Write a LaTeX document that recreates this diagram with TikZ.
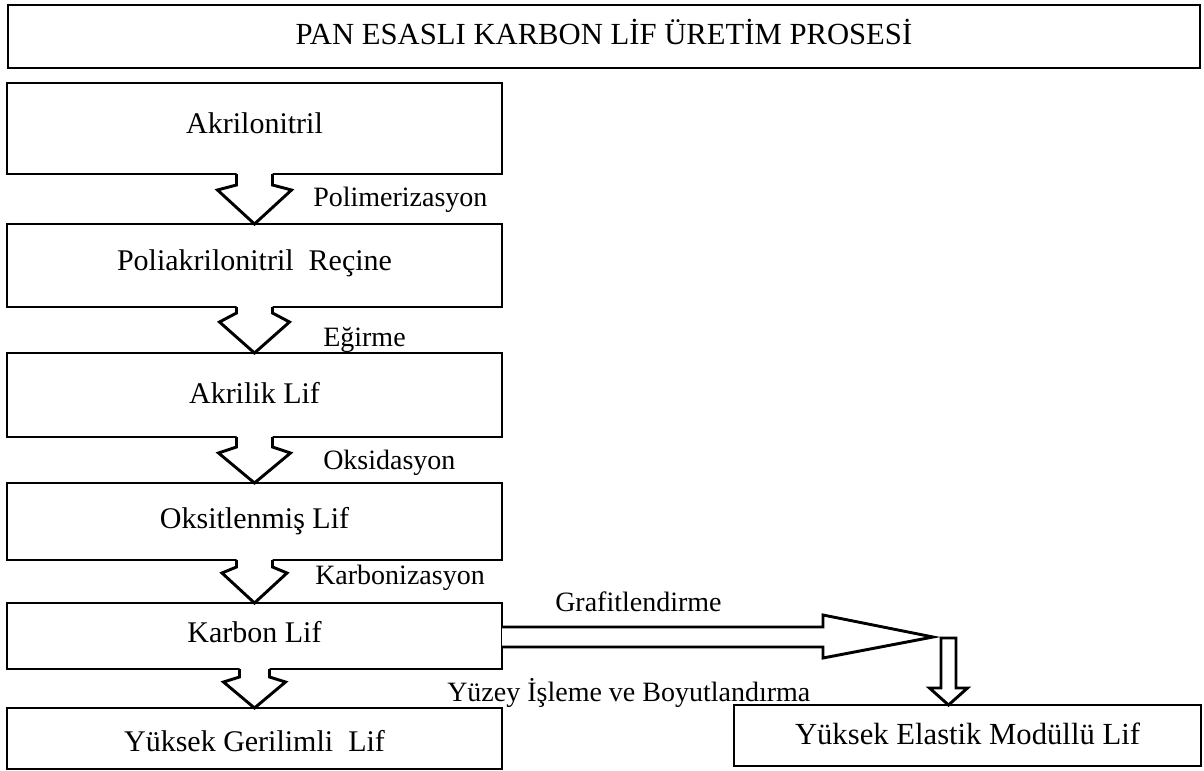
\documentclass[tikz,border=0pt]{standalone}
\usepackage{fontspec}
\setmainfont{Liberation Serif}
\usetikzlibrary{calc}
\tikzset{
  box/.style={draw, line width=2.2pt, inner sep=0pt, outer sep=0pt, fill=white,
    minimum width=371.25pt},
  txt/.style={inner sep=0pt, font=\fontsize{22.5}{27}\selectfont},
  blk/.style={draw, line width=2.2pt, line join=miter},
  lab/.style={anchor=west, inner sep=0pt, font=\fontsize{21}{25}\selectfont},
}
% #1 from node anchor, #2 tip, #3 shaft half width, #4 shaft end offset, #5 wing offset, #6 wing half width
\newcommand{\blockdown}[6]{%
  \fill[white] ($(#1)+(-#3,-2)$) -- ($(#2)+(-#3,-#4)$) -- ($(#2)+(-#6,-#5)$) -- (#2)
     -- ($(#2)+(#6,-#5)$) -- ($(#2)+(#3,-#4)$) -- ($(#1)+(#3,-2)$) -- cycle;
  \draw[blk] ($(#1)+(-#3,0)$) -- ($(#2)+(-#3,-#4)$) -- ($(#2)+(-#6,-#5)$) -- (#2)
     -- ($(#2)+(#6,-#5)$) -- ($(#2)+(#3,-#4)$) -- ($(#1)+(#3,0)$);
}
\begin{document}
\begin{tikzpicture}[x=0.75pt,y=-0.75pt]
\useasboundingbox[fill=white] (0,0) rectangle (1204,771);
% title
\node[box, minimum width=894pt, minimum height=47.25pt] (title) at (604,36.5) {};
\node[txt, font=\fontsize{23}{28}\selectfont] (tt) at ($(title)+(0,-5)$) {PAN ESASLI KARBON LİF ÜRETİM PROSESİ};
% main column
\node[box, minimum height=68.25pt] (b1) at (254.5,128.5) {};
\node[box, minimum height=62.25pt] (b2) at (254.5,265.5) {};
\node[box, minimum height=63pt]    (b3) at (254.5,395)   {};
\node[box, minimum height=57.75pt] (b4) at (254.5,521.5) {};
\node[box, minimum height=49.5pt]  (b5) at (254.5,636)   {};
\node[box, minimum height=45.75pt] (b6) at (254.5,738.5) {};
\node[box, minimum width=350.25pt, minimum height=45.75pt] (b7) at (967.5,735.5) {};
\node[txt] (t1) at ($(b1)+(0,-5)$) {Akrilonitril};
\node[txt] (t2) at ($(b2)+(0,-2)$) {Poliakrilonitril\ \ Reçine};
\node[txt] (t3) at ($(b3)+(0,-2)$) {Akrilik Lif};
\node[txt] (t4) at ($(b4)+(0,0)$)  {Oksitlenmiş Lif};
\node[txt] (t5) at ($(b5)+(0,-4)$) {Karbon Lif};
\node[txt] (t6) at ($(b6)+(0,3)$)  {Yüksek Gerilimli\ \ Lif};
\node[txt, font=\fontsize{23}{28}\selectfont] (t7) at ($(b7)+(0,-2)$) {Yüksek Elastik Modüllü Lif};
% down block arrows
\blockdown{b1.south}{b2.north}{18}{39}{34}{37}
\blockdown{b2.south}{b3.north}{18}{40}{31}{35}
\blockdown{b3.south}{b4.north}{18}{36}{30}{36}
\blockdown{b4.south}{b5.north}{18}{36}{30}{32.5}
\blockdown{b5.south}{b6.north}{15}{31}{26}{31}
% labels
\node[lab] (l1) at (313,200) {Polimerizasyon};
\node[lab] (l2) at (323,340) {Eğirme};
\node[lab] (l3) at (323,463) {Oksidasyon};
\node[lab] (l4) at (315,578) {Karbonizasyon};
\node[lab] (l5) at (555,602) {Grafitlendirme};
\node[lab] (l6) at (447,693) {Yüzey İşleme ve Boyutlandırma};
% graphitisation arrow
\coordinate (gt) at (933,637);
\coordinate (dx) at (948.5,637);
\coordinate (dtip) at (b7.north -| dx);
\draw[blk, fill=white] ($(b5.east)+(0,-9)$) -- ($(gt)+(-110,-10)$) -- ($(gt)+(-110,-22)$) -- (gt)
   -- ($(gt)+(-110,21)$) -- ($(gt)+(-110,10)$) -- ($(b5.east)+(0,11)$);
\draw[blk, fill=white] ($(dx)+(-7.5,1)$) -- ($(dx)+(7.5,1)$) -- ($(dtip)+(7.5,-17)$)
   -- ($(dtip)+(19,-17)$) -- (dtip) -- ($(dtip)+(-19,-17)$) -- ($(dtip)+(-7.5,-17)$) -- cycle;
\end{tikzpicture}
\end{document}
